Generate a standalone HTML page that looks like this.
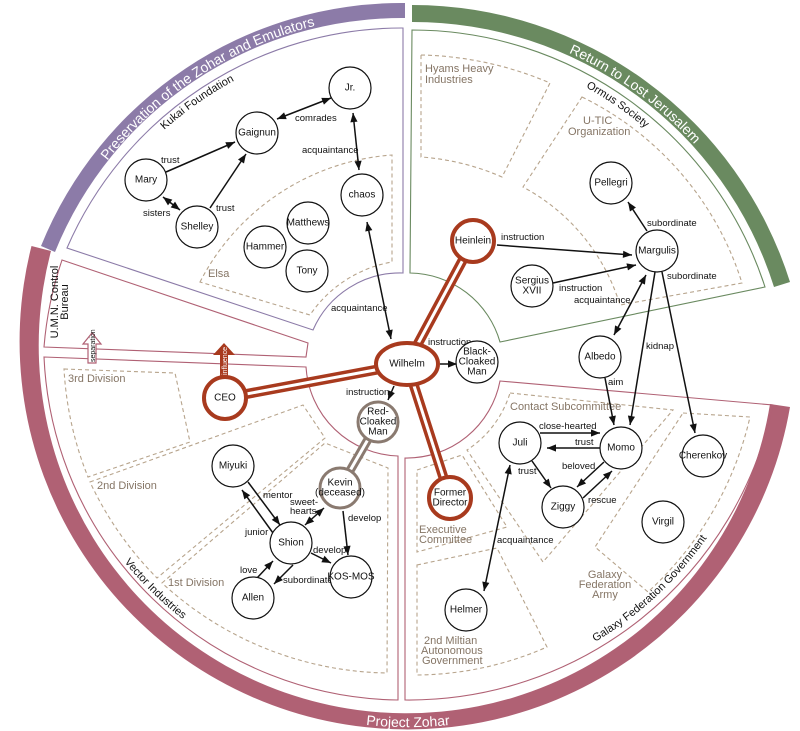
<!DOCTYPE html>
<html><head><meta charset="utf-8"><style>
html,body{margin:0;padding:0;background:#fff}
svg{display:block}
text{font-family:"Liberation Sans",sans-serif}
.n{font-size:10px;text-anchor:middle;dominant-baseline:central;fill:#111}
.e{font-size:9.5px;fill:#111}
.g{font-size:11px;fill:#857565}
.c{fill:#fff;stroke:#111;stroke-width:1.2}
.d{fill:none;stroke:#b7a48c;stroke-width:1.1;stroke-dasharray:4,3}
.a{stroke:#111;stroke-width:1.5;fill:none}
</style></head><body>
<svg width="800" height="731" viewBox="0 0 800 731" xmlns="http://www.w3.org/2000/svg">
<defs>
<marker id="m" markerUnits="userSpaceOnUse" markerWidth="12" markerHeight="10" refX="0" refY="0" orient="auto-start-reverse" overflow="visible" viewBox="-10 -5 12 10"><path d="M0,0 L-9,-3.6 L-9,3.6 Z" fill="#111"/></marker>
<path id="pp" d="M55,252 A377,377 0 0,1 402,15"/>
<path id="gp" d="M412,19 A382,382 0 0,1 775,283"/>
<path id="zp" d="M80,540 A381,381 0 0,0 736,540"/>
<path id="kp" d="M60,300 A353,353 0 0,1 402,39"/>
<path id="op" d="M412,43 A358,358 0 0,1 760,311"/>
<path id="vp" d="M60,440 A354,354 0 0,0 250,660"/>
<path id="fp" d="M560,660 A356,356 0 0,0 760,420"/>
</defs>

<path d="M405,3 A389,389 0 0,0 41,246 L55,252 A374,374 0 0,1 405,18 Z" fill="#8c7ba8"/>
<path d="M412,5 A396,396 0 0,1 790,282 L774,287 A379,379 0 0,0 412,22 Z" fill="#6a8a60"/>
<path d="M31.5,246 A388,388 0 1,0 790,407 L770,404 A368,368 0 1,1 51,251 Z" fill="#b06174"/>
<text font-size="14" fill="#fff"><textPath href="#pp" startOffset="52%" text-anchor="middle">Preservation of the Zohar and Emulators</textPath></text>
<text font-size="14" fill="#fff"><textPath href="#gp" startOffset="50%" text-anchor="middle">Return to Lost Jerusalem</textPath></text>
<text font-size="14" fill="#fff"><textPath href="#zp" startOffset="50%" text-anchor="middle">Project Zohar</textPath></text>

<path d="M403,28 L403,273 A95,95 0 0,0 313,330 L67,248 A365,365 0 0,1 403,28 Z" fill="none" stroke="#8c7ba8" stroke-width="1.1"/>
<path d="M412,30 L410,273 A95,95 0 0,1 500,342 L765,287 A371,371 0 0,0 412,30 Z" fill="none" stroke="#6a8a60" stroke-width="1.1"/>
<path d="M62,260 L308,343 L306,357 L44,347 A360,360 0 0,1 62,260 Z" fill="none" stroke="#b06174" stroke-width="1.1"/>
<path d="M44,357 L306,367 A95,95 0 0,0 398,456 L398,700 A359,359 0 0,1 44,357 Z" fill="none" stroke="#b06174" stroke-width="1.1"/>
<path d="M500,381 L773,405 A372,372 0 0,1 405,700 L405,458 A95,95 0 0,0 500,381 Z" fill="none" stroke="#b06174" stroke-width="1.1"/>

<text font-size="11" fill="#111"><textPath href="#kp" startOffset="53%" text-anchor="middle">Kukai Foundation</textPath></text>
<text font-size="11" fill="#111"><textPath href="#op" startOffset="46%" text-anchor="middle">Ormus Society</textPath></text>
<text font-size="11" fill="#111"><textPath href="#vp" startOffset="60%" text-anchor="middle">Vector Industries</textPath></text>
<text font-size="11" fill="#111"><textPath href="#fp" startOffset="36%" text-anchor="middle">Galaxy Federation Government</textPath></text>
<text font-size="11" fill="#111" transform="translate(58,302) rotate(-90)" text-anchor="middle">U.M.N. Control</text>
<text font-size="11" fill="#111" transform="translate(68,302) rotate(-90)" text-anchor="middle">Bureau</text>

<path class="d" d="M200,282 A235,235 0 0,1 392,155 L392,262 A125,125 0 0,0 310,315 Z"/>
<path class="d" d="M421,55 A346,346 0 0,1 550,83 L502,177 A245,245 0 0,0 421,157 Z"/>
<path class="d" d="M582,97 A310,310 0 0,1 742,283 L620,305 A200,200 0 0,0 523,187 Z"/>
<path class="d" d="M64,369 L175,373 L190,442 L88,477 A340,340 0 0,1 64,369 Z"/>
<path class="d" d="M90,482 L303,405 L325,438 L157,578 A340,340 0 0,1 90,482 Z"/>
<path class="d" d="M162,583 L325,443 L388,468 L387,673 A340,340 0 0,1 162,583 Z"/>
<path class="d" d="M510,393 L673,410 L543,562 L467,450 A105,105 0 0,0 510,393 Z"/>
<path class="d" d="M417,470 L462,455 L507,527 L417,552 Z"/>
<path class="d" d="M417,565 L497,548 L547,647 A330,330 0 0,1 417,675 Z"/>
<path class="d" d="M683,413 L750,417 A340,340 0 0,1 648,592 L595,547 Z"/>

<text class="g" x="208" y="277">Elsa</text>
<text class="g" x="425" y="72">Hyams Heavy</text>
<text class="g" x="425" y="83">Industries</text>
<text class="g" x="583" y="124">U-TIC</text>
<text class="g" x="568" y="135">Organization</text>
<text class="g" x="68" y="382">3rd Division</text>
<text class="g" x="97" y="489">2nd Division</text>
<text class="g" x="168" y="586">1st Division</text>
<text class="g" x="510" y="410">Contact Subcommittee</text>
<text class="g" x="419" y="533">Executive</text>
<text class="g" x="419" y="543">Committee</text>
<text class="g" x="424" y="644">2nd Miltian</text>
<text class="g" x="421" y="654">Autonomous</text>
<text class="g" x="422" y="664">Government</text>
<text class="g" x="605" y="578" text-anchor="middle">Galaxy</text>
<text class="g" x="605" y="588" text-anchor="middle">Federation</text>
<text class="g" x="605" y="598" text-anchor="middle">Army</text>

<path d="M88,363 L88,344 L83,344 L92,333 L101,344 L96,344 L96,363 Z" fill="#fff" stroke="#b06174" stroke-width="1.2"/>
<text font-size="7" fill="#111" transform="translate(95,362) rotate(-90)">separation</text>
<path d="M220,378 L220,355 L213,355 L224,343 L235,355 L228,355 L228,378 Z" fill="#a83a1e"/>
<text font-size="7" fill="#fff" transform="translate(227,375) rotate(-90)">influence</text>

<g stroke-linecap="butt">
<line x1="407" y1="364" x2="473" y2="241" stroke="#a83a1e" stroke-width="10"/>
<line x1="407" y1="364" x2="473" y2="241" stroke="#fff" stroke-width="3"/>
<line x1="407" y1="364" x2="225" y2="398" stroke="#a83a1e" stroke-width="10"/>
<line x1="407" y1="364" x2="225" y2="398" stroke="#fff" stroke-width="3"/>
<line x1="407" y1="364" x2="450" y2="498" stroke="#a83a1e" stroke-width="10"/>
<line x1="407" y1="364" x2="450" y2="498" stroke="#fff" stroke-width="3"/>
<line x1="378" y1="422" x2="340" y2="488" stroke="#8a7a70" stroke-width="9"/>
<line x1="378" y1="422" x2="340" y2="488" stroke="#fff" stroke-width="3"/>
</g>

<g class="a">
<line x1="277" y1="119" x2="331" y2="98" marker-start="url(#m)" marker-end="url(#m)"/>
<line x1="353" y1="113" x2="359" y2="170" marker-start="url(#m)" marker-end="url(#m)"/>
<line x1="166" y1="172" x2="235" y2="142" marker-end="url(#m)"/>
<line x1="163" y1="197" x2="180" y2="210" marker-start="url(#m)" marker-end="url(#m)"/>
<line x1="210" y1="208" x2="246" y2="154" marker-end="url(#m)"/>
<line x1="367" y1="222" x2="391" y2="339" marker-start="url(#m)" marker-end="url(#m)"/>
<line x1="497" y1="245" x2="632" y2="255" marker-end="url(#m)"/>
<line x1="553" y1="283" x2="636" y2="265" marker-end="url(#m)"/>
<line x1="647" y1="231" x2="628" y2="202" marker-end="url(#m)"/>
<line x1="646" y1="275" x2="614" y2="335" marker-start="url(#m)" marker-end="url(#m)"/>
<line x1="655" y1="272" x2="630" y2="425" marker-end="url(#m)"/>
<line x1="662" y1="272" x2="695" y2="433" marker-end="url(#m)"/>
<line x1="605" y1="378" x2="614" y2="425" marker-end="url(#m)"/>
<line x1="440" y1="364" x2="457" y2="364" marker-end="url(#m)"/>
<line x1="394" y1="386" x2="388" y2="400" marker-end="url(#m)"/>
<line x1="540" y1="433" x2="600" y2="433" marker-end="url(#m)"/>
<line x1="600" y1="448" x2="547" y2="448" marker-end="url(#m)"/>
<line x1="532" y1="461" x2="551" y2="488" marker-end="url(#m)"/>
<line x1="604" y1="462" x2="577" y2="487" marker-end="url(#m)"/>
<line x1="583" y1="498" x2="612" y2="471" marker-end="url(#m)"/>
<line x1="510" y1="465" x2="484" y2="591" marker-start="url(#m)" marker-end="url(#m)"/>
<line x1="248" y1="482" x2="280" y2="525" marker-end="url(#m)"/>
<line x1="273" y1="533" x2="242" y2="490" marker-end="url(#m)"/>
<line x1="324" y1="508" x2="305" y2="525" marker-start="url(#m)" marker-end="url(#m)"/>
<line x1="343" y1="511" x2="348" y2="555" marker-end="url(#m)"/>
<line x1="311" y1="553" x2="331" y2="563" marker-end="url(#m)"/>
<line x1="257" y1="578" x2="273" y2="561" marker-end="url(#m)"/>
<line x1="293" y1="565" x2="274" y2="584" marker-end="url(#m)"/>
</g>

<g class="e">
<text x="295" y="121">comrades</text>
<text x="302" y="153">acquaintance</text>
<text x="161" y="163">trust</text>
<text x="143" y="216">sisters</text>
<text x="216" y="211">trust</text>
<text x="331" y="311">acquaintance</text>
<text x="501" y="240">instruction</text>
<text x="559" y="291">instruction</text>
<text x="574" y="303">acquaintance</text>
<text x="647" y="226">subordinate</text>
<text x="667" y="279">subordinate</text>
<text x="646" y="349">kidnap</text>
<text x="608" y="385">aim</text>
<text x="428" y="345">instruction</text>
<text x="346" y="395">instruction</text>
<text x="539" y="429">close-hearted</text>
<text x="575" y="445">trust</text>
<text x="518" y="474">trust</text>
<text x="562" y="469">beloved</text>
<text x="588" y="503">rescue</text>
<text x="497" y="543">acquaintance</text>
<text x="263" y="498">mentor</text>
<text x="245" y="535">junior</text>
<text x="290" y="505">sweet-</text>
<text x="290" y="514">hearts</text>
<text x="348" y="521">develop</text>
<text x="313" y="553">develop</text>
<text x="240" y="573">love</text>
<text x="283" y="583">subordinate</text>
</g>

<circle class="c" cx="350" cy="88" r="21"/><text class="n" x="350" y="88">Jr.</text>
<circle class="c" cx="257" cy="133" r="21"/><text class="n" x="257" y="133">Gaignun</text>
<circle class="c" cx="146" cy="180" r="21"/><text class="n" x="146" y="180">Mary</text>
<circle class="c" cx="197" cy="227" r="21"/><text class="n" x="197" y="227">Shelley</text>
<circle class="c" cx="362" cy="195" r="21"/><text class="n" x="362" y="195">chaos</text>
<circle class="c" cx="308" cy="223" r="21"/><text class="n" x="308" y="223">Matthews</text>
<circle class="c" cx="265" cy="247" r="21"/><text class="n" x="265" y="247">Hammer</text>
<circle class="c" cx="307" cy="271" r="21"/><text class="n" x="307" y="271">Tony</text>
<circle class="c" cx="611" cy="183" r="21"/><text class="n" x="611" y="183">Pellegri</text>
<circle class="c" cx="657" cy="251" r="21"/><text class="n" x="657" y="251">Margulis</text>
<circle class="c" cx="532" cy="286" r="21"/><text class="n" x="532" y="281">Sergius</text><text class="n" x="532" y="291">XVII</text>
<circle class="c" cx="600" cy="357" r="21"/><text class="n" x="600" y="357">Albedo</text>
<circle class="c" cx="477" cy="362" r="21"/><text class="n" x="477" y="352">Black-</text><text class="n" x="477" y="362">Cloaked</text><text class="n" x="477" y="372">Man</text>
<circle class="c" cx="233" cy="466" r="21"/><text class="n" x="233" y="466">Miyuki</text>
<circle class="c" cx="291" cy="543" r="21"/><text class="n" x="291" y="543">Shion</text>
<circle class="c" cx="351" cy="577" r="21"/><text class="n" x="351" y="577">KOS-MOS</text>
<circle class="c" cx="253" cy="598" r="21"/><text class="n" x="253" y="598">Allen</text>
<circle class="c" cx="520" cy="443" r="21"/><text class="n" x="520" y="443">Juli</text>
<circle class="c" cx="621" cy="448" r="21"/><text class="n" x="621" y="448">Momo</text>
<circle class="c" cx="563" cy="507" r="21"/><text class="n" x="563" y="507">Ziggy</text>
<circle class="c" cx="703" cy="456" r="21"/><text class="n" x="703" y="456">Cherenkov</text>
<circle class="c" cx="663" cy="522" r="21"/><text class="n" x="663" y="522">Virgil</text>
<circle class="c" cx="466" cy="610" r="21"/><text class="n" x="466" y="610">Helmer</text>

<circle cx="473" cy="241" r="21" fill="#fff" stroke="#a83a1e" stroke-width="4"/><text class="n" x="473" y="241">Heinlein</text>
<ellipse cx="407" cy="364" rx="31" ry="21" fill="#fff" stroke="#a83a1e" stroke-width="4"/><text class="n" x="407" y="364">Wilhelm</text>
<circle cx="225" cy="398" r="21" fill="#fff" stroke="#a83a1e" stroke-width="4"/><text class="n" x="225" y="398">CEO</text>
<circle cx="450" cy="498" r="21" fill="#fff" stroke="#a83a1e" stroke-width="4"/><text class="n" x="450" y="493">Former</text><text class="n" x="450" y="503">Director</text>
<circle cx="378" cy="422" r="20" fill="#fff" stroke="#8a7a70" stroke-width="3"/><text class="n" x="378" y="412">Red-</text><text class="n" x="378" y="422">Cloaked</text><text class="n" x="378" y="432">Man</text>
<circle cx="340" cy="488" r="20" fill="#fff" stroke="#8a7a70" stroke-width="3"/><text class="n" x="340" y="483">Kevin</text><text class="n" x="340" y="493">(deceased)</text>
</svg>
</body></html>
